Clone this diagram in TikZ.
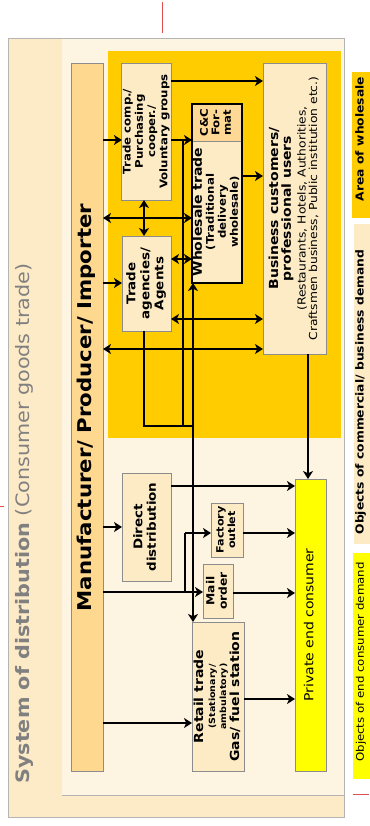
\documentclass[tikz,border=0pt]{standalone}
\usepackage{fontspec}
\setmainfont{DejaVu Sans}[FakeStretch=1.12]
\usepackage{graphicx}
\usetikzlibrary{arrows.meta}
\definecolor{frameout}{HTML}{FDEBC8}
\definecolor{framein}{HTML}{FEF4E2}
\definecolor{framegray}{HTML}{B4B4B4}
\definecolor{wsyellow}{HTML}{FFCC00}
\definecolor{boxfill}{HTML}{FDEBC6}
\definecolor{boxgray}{HTML}{8C8C8C}
\definecolor{manufill}{HTML}{FDD88E}
\definecolor{ccfill}{HTML}{FDD995}
\definecolor{peyellow}{HTML}{FFFF00}
\definecolor{titlegray}{HTML}{808080}
\definecolor{redmark}{HTML}{E05050}
\newcommand\rt[2]{\rotatebox{90}{#1\begin{tabular}{@{}c@{}}#2\end{tabular}}}
\newcommand\fs[2]{\fontsize{#1}{#2}\selectfont}
\begin{document}
\begin{tikzpicture}[x=1pt,y=-1pt,
  box/.style={draw=boxgray,fill=boxfill,line width=0.9pt,inner sep=0pt,outer sep=0pt},
  txt/.style={inner sep=0pt,outer sep=0pt,text=black},
  arr/.style={line width=2.1pt,-{Stealth[length=8pt,width=10pt,inset=2.2pt]}},
  darr/.style={line width=2.1pt,{Stealth[length=8pt,width=10pt,inset=2.2pt]}-{Stealth[length=8pt,width=10pt,inset=2.2pt]}},
  thinl/.style={line width=1.2pt},
]
\useasboundingbox (0,0) rectangle (369,826);
% frame
\fill[frameout] (8,38) rectangle (344,817);
\fill[framein] (62,38) rectangle (344,795);
\draw[framegray,line width=0.8pt] (62,795) -- (344,795);
\draw[framegray,line width=0.8pt] (8,38) rectangle (344,817);
\fill[wsyellow] (108,51) rectangle (341,438);
% red marks
\draw[redmark,line width=0.8pt] (162,2) -- (162,33);
\draw[redmark,line width=0.8pt] (0,506) -- (4,506);
\draw[redmark,line width=0.8pt] (353,794) -- (369,794);
% title
\node[txt,text=titlegray] (title) at (25,523.5) {\rt{\fs{18.5}{20}}{\textbf{System of distribution} (Consumer goods trade)}};
% manufacturer
\node[box,fill=manufill,minimum width=32pt,minimum height=708pt] (manu) at (87,417) {};
\node[txt] (manuT) at (87,407.5) {\rt{\fs{19}{22}\bfseries}{Manufacturer/ Producer/ Importer}};
% boxes
\node[box,minimum width=49pt,minimum height=137pt] (tc) at (146.5,131.5) {\rt{\fs{10.5}{12.3}\bfseries}{Trade comp./\\Purchasing\\cooper./\\Voluntary groups}};
\node[box,minimum width=49pt,minimum height=95pt] (ta) at (146.5,283.5) {\rt{\fs{12}{14}\bfseries}{Trade\\agencies/\\Agents}};
\node[box,minimum width=50pt,minimum height=179pt] (ws) at (217,193.5) {};
\node[box,fill=ccfill,minimum width=50pt,minimum height=37pt] (cc) at (217,122.5) {\rt{\fs{10.5}{11.5}\bfseries}{C\&C\\For-\\mat}};
\node[txt] (wsT) at (217,212) {\rt{\fs{10.5}{12}\bfseries}{{\fs{12.5}{14}Wholesale trade}\\(Traditional\\delivery\\wholesale)}};
\draw[line width=2.2pt] (ws.north west) rectangle (ws.south east);
\node[box,minimum width=63pt,minimum height=291pt] (bc) at (294.5,208.5) {\rt{\fs{11}{11}}{{\fs{12.5}{14}\bfseries Business customers/}\\{\fs{12.5}{14}\bfseries professional users}\\[3pt](Restaurants, Hotels, Authorities,\\Craftsmen business, Public institution etc.)}};
\node[box,minimum width=49pt,minimum height=108pt] (dd) at (146.5,527) {\rt{\fs{12}{13.5}\bfseries}{Direct\\distribution}};
\node[box,minimum width=32pt,minimum height=54pt] (fo) at (227,530) {\rt{\fs{10}{11.5}\bfseries}{Factory\\outlet}};
\node[box,minimum width=30pt,minimum height=54pt] (mo) at (218,591) {\rt{\fs{11}{12.5}\bfseries}{Mail\\order}};
\node[box,minimum width=52pt,minimum height=149pt] (rt) at (218,696.5) {\rt{\fs{8.5}{11}\bfseries}{{\fs{12.5}{13}Retail trade}\\[1pt]{\fs{8.5}{9.5}(Stationary/}\\{\fs{8.5}{9.5}ambulatory)}\\{\fs{12.5}{13}Gas/ fuel station}}};
\node[box,fill=peyellow,minimum width=31pt,minimum height=292pt] (pe) at (310.5,625) {\rt{\fs{12.5}{14}}{Private end consumer}};
% legends
\fill[wsyellow] (352,72) rectangle (372,218);
\node[txt] (l1) at (361,139) {\rt{\fs{11}{13}\bfseries}{Area of wholesale}};
\fill[boxfill] (354,224) rectangle (372,544);
\node[txt] (l2) at (361,392) {\rt{\fs{11}{13}\bfseries}{Objects of commercial/ business demand}};
\fill[peyellow] (353,553) rectangle (372,779);
\node[txt] (l3) at (361.5,662) {\rt{\fs{10.5}{12}}{Objects of end consumer demand}};
% connectors
\coordinate (j) at (193,426);
\coordinate (b1) at (183,140);
\coordinate (b2) at (185,592);
\draw[thinl] (b1) -- (b1 |- j);
\draw[thinl] (ta.south -| 144,0) |- (j);
\draw[thinl] (b2) -- (b2 |- 0,533);
\draw[arr] (manu.east |- 0,140) -- (tc.west |- 0,140);
\draw[arr] (manu.east |- 0,283) -- (ta.west |- 0,283);
\draw[darr] (manu.east |- 0,218) -- (ws.west |- 0,218);
\draw[darr] (tc.south -| 144,0) -- (ta.north -| 144,0);
\draw[arr] (tc.east |- 0,140) -- (ws.west |- 0,140);
\draw[arr] (tc.east |- 0,81) -- (bc.west |- 0,81);
\draw[arr] (ws.east |- 0,176) -- (bc.west |- 0,176);
\draw[darr] (ta.east |- 0,259) -- (ws.west |- 0,259);
\draw[darr] (ta.east |- 0,319) -- (bc.west |- 0,319);
\draw[darr] (manu.east |- 0,349) -- (bc.west |- 0,349);
\draw[arr] (j) -- (ws.south -| j);
\draw[arr] (j) -- (rt.north -| j);
\draw[arr] (bc.south -| 308,0) -- (pe.north -| 308,0);
\draw[arr] (dd.east |- 0,486) -- (pe.west |- 0,486);
\draw[arr] (manu.east |- 0,527) -- (dd.west |- 0,527);
\draw[arr] (manu.east |- 0,592) -- (mo.west |- 0,592);
\draw[arr] (b2 |- 0,533) -- (fo.west |- 0,533);
\draw[arr] (fo.east |- 0,533) -- (pe.west |- 0,533);
\draw[arr] (mo.east |- 0,593) -- (pe.west |- 0,593);
\draw[arr] (manu.east |- 0,723) -- (rt.west |- 0,723);
\draw[arr] (rt.east |- 0,699) -- (pe.west |- 0,699);
\end{tikzpicture}
\end{document}
